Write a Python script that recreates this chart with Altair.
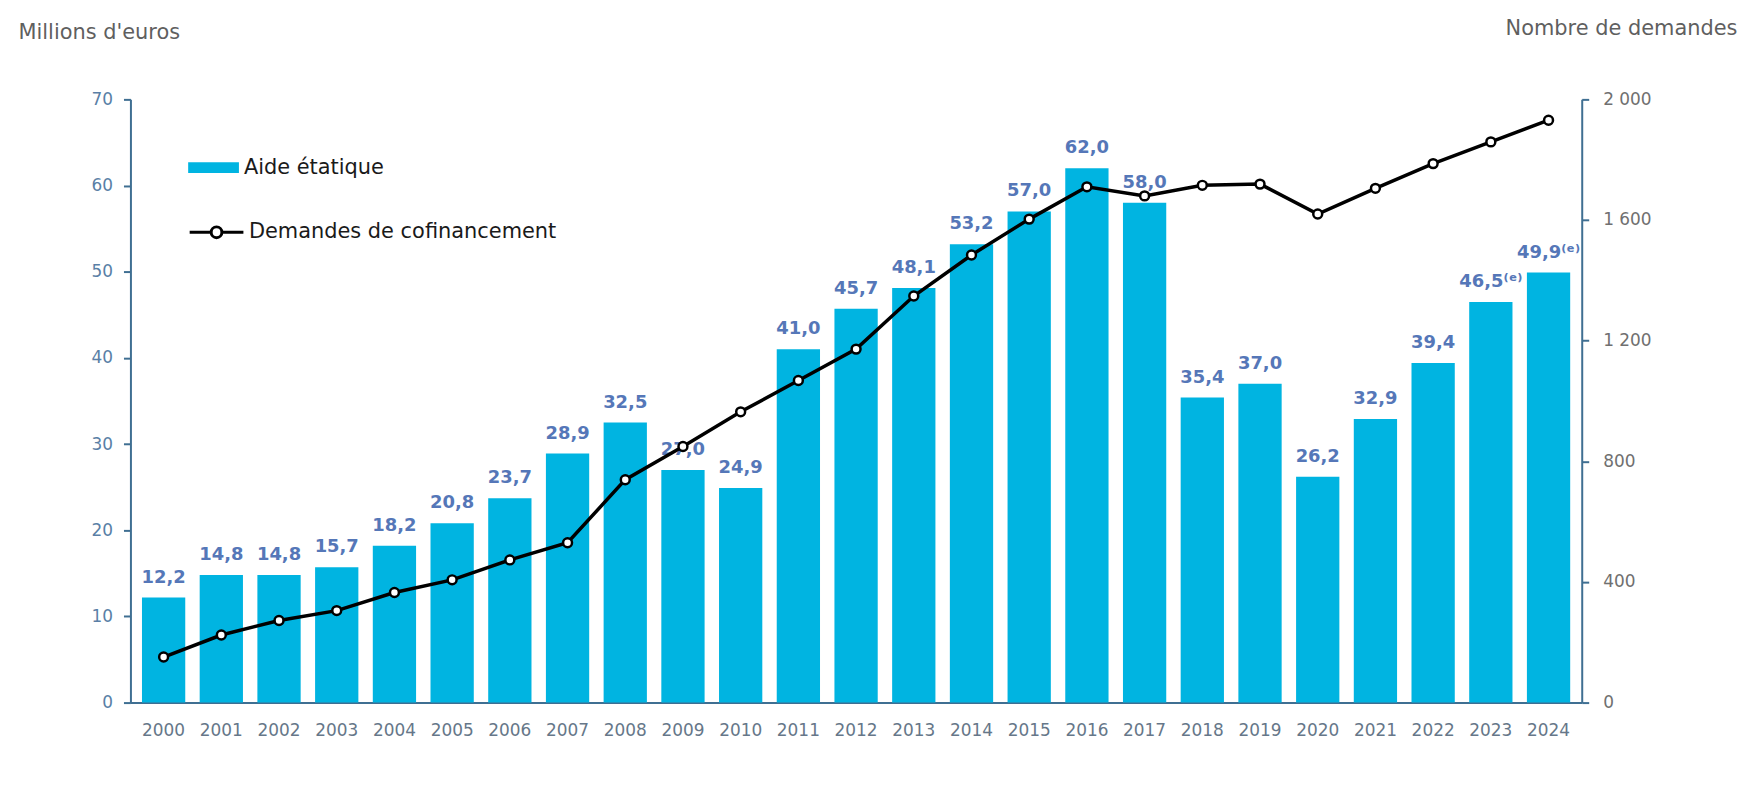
import altair as alt
import pandas as pd

years = [str(y) for y in range(2000, 2025)]
aide = [12.2, 14.8, 14.8, 15.7, 18.2, 20.8, 23.7, 28.9, 32.5, 27.0, 24.9, 41.0,
        45.7, 48.1, 53.2, 57.0, 62.0, 58.0, 35.4, 37.0, 26.2, 32.9, 39.4, 46.5, 49.9]
aide_labels = ["12,2", "14,8", "14,8", "15,7", "18,2", "20,8", "23,7", "28,9", "32,5",
               "27,0", "24,9", "41,0", "45,7", "48,1", "53,2", "57,0", "62,0", "58,0",
               "35,4", "37,0", "26,2", "32,9", "39,4", "46,5⁽ᵉ⁾", "49,9⁽ᵉ⁾"]
demandes = [151, 224, 272, 305, 365, 407, 473, 530, 739, 849, 964, 1068, 1172, 1348,
            1484, 1603, 1710, 1680, 1715, 1719, 1620, 1705, 1787, 1859, 1931]

df = pd.DataFrame({"annee": years, "aide": aide, "label": aide_labels, "demandes": demandes})

FONT = "DejaVu Sans"
BAR = "#00B4E1"
AXIS = "#3F6F92"

x = alt.X("annee:O", title=None,
          scale=alt.Scale(paddingInner=0.25, paddingOuter=0.2),
          axis=alt.Axis(labelAngle=0, ticks=False, labelPadding=20, labelFontSize=17,
                        labelColor="#667789", domainColor=AXIS, domainWidth=2,
                        labelFont=FONT))

left_axis = alt.Axis(values=list(range(0, 71, 10)), grid=False, tickSize=7,
                     labelPadding=11, labelFontSize=17, labelColor="#5A7FA6",
                     domainColor=AXIS, domainWidth=2, tickColor=AXIS, tickWidth=2,
                     labelFont=FONT,
                     title="Millions d'euros", titleAngle=0, titleX=-113, titleY=-67,
                     titleAlign="left", titleBaseline="middle", titleFontSize=21,
                     titleFontWeight="normal", titleColor="#5f5f5f", titleFont=FONT)

right_axis = alt.Axis(orient="right", values=list(range(0, 2001, 400)), grid=False,
                      tickSize=7, labelPadding=14, labelFontSize=17, labelColor="#707070",
                      domainColor=AXIS, domainWidth=2, tickColor=AXIS, tickWidth=2,
                      labelFont=FONT,
                      labelExpr="replace(format(datum.value, ','), ',', ' ')",
                      title="Nombre de demandes", titleAngle=0, titleX=156, titleY=-71,
                      titleAlign="right", titleBaseline="middle", titleFontSize=21,
                      titleFontWeight="normal", titleColor="#5f5f5f", titleFont=FONT)

base = alt.Chart(df).encode(x=x)

bars = base.transform_calculate(serie="'Aide étatique'").mark_bar(color=BAR).encode(
    y=alt.Y("aide:Q", scale=alt.Scale(domain=[0, 70]), axis=left_axis),
    fill=alt.Fill("serie:N", scale=alt.Scale(domain=["Aide étatique"], range=[BAR]),
                  legend=alt.Legend(title=None, orient="none", legendX=58, legendY=43,
                                    symbolType="M-1,-0.21H1V0.21H-1Z", symbolSize=2601,
                                    symbolStrokeWidth=0, labelFontSize=21, labelFont=FONT,
                                    labelColor="#1a1a1a", labelOffset=5, padding=0,
                                    labelLimit=500)),
)

labels = base.mark_text(font=FONT, fontSize=18, fontWeight="bold", color="#5577B8",
                        baseline="middle", dy=-20).encode(
    y=alt.Y("aide:Q", scale=alt.Scale(domain=[0, 70]), axis=left_axis),
    text="label:N",
)

line = base.transform_calculate(serie2="'Demandes de cofinancement'").mark_line(
    strokeWidth=3.5).encode(
    y=alt.Y("demandes:Q", scale=alt.Scale(domain=[0, 2000]), axis=right_axis),
    stroke=alt.Stroke("serie2:N",
                      scale=alt.Scale(domain=["Demandes de cofinancement"], range=["black"]),
                      legend=alt.Legend(title=None, orient="none", legendX=58, legendY=105,
                                        symbolType="M-1,0H-0.2M0.2,0H1M0.2,0A0.2,0.2,0,1,1,-0.2,0A0.2,0.2,0,1,1,0.2,0",
                                        symbolSize=2916, symbolStrokeWidth=3,
                                        symbolFillColor="white", labelFontSize=21,
                                        labelFont=FONT, labelColor="#1a1a1a",
                                        labelOffset=4, padding=0, labelLimit=500)),
)

points = base.mark_point(filled=True, fill="white", stroke="black", strokeWidth=2.5,
                         size=80, opacity=1).encode(
    y=alt.Y("demandes:Q", scale=alt.Scale(domain=[0, 2000]), axis=right_axis),
)

chart = alt.layer(
    alt.layer(bars, labels),
    alt.layer(line, points),
).resolve_scale(y="independent", fill="independent", stroke="independent").properties(
    width=1458, height=606,
    padding={"left": 123, "top": 90, "right": 158, "bottom": 80},
    autosize=alt.AutoSizeParams(type="none"),
    background="white",
).configure_view(stroke=None)

chart.save("out.html", embed_options={"renderer": "svg", "actions": False})
